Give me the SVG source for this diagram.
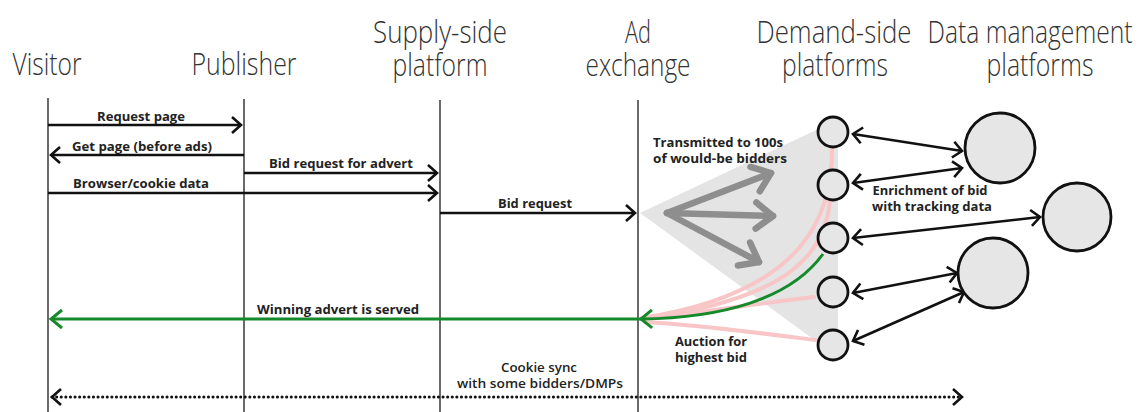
<svg xmlns="http://www.w3.org/2000/svg" width="1142" height="412" viewBox="0 0 1142 412">
<style>
.hd{font-family:"Open Sans","DejaVu Sans",sans-serif;font-weight:300;font-size:31px;fill:#333;text-anchor:middle}
.lb{font-family:"Open Sans","DejaVu Sans",sans-serif;font-weight:700;font-size:12.5px;fill:#222;text-anchor:middle}
.lbn{font-family:"Open Sans","DejaVu Sans",sans-serif;font-weight:600;font-size:12.5px;fill:#222;text-anchor:middle}
.life{stroke:#444;stroke-width:1.6;fill:none}
.blk{stroke:#111;stroke-width:2.6;fill:none}
.pink{stroke:#f8c6c6;stroke-width:4;fill:none;stroke-linecap:round}
.grn{stroke:#16892a;stroke-width:3;fill:none}
.gry{stroke:#8e8e8e;stroke-width:6.5;fill:none;stroke-linecap:round}
.dsp{fill:#e6e6e6;stroke:#111;stroke-width:2.8}
</style>
<defs>
<marker id="ab" viewBox="-12 -10 14 20" markerWidth="14" markerHeight="20" refX="0" refY="0" orient="auto-start-reverse" markerUnits="userSpaceOnUse" overflow="visible">
<path d="M-9,-8 L0,0 L-9,8" fill="none" stroke="#111" stroke-width="2.6"/>
</marker>
<marker id="ag" viewBox="-14 -12 16 24" markerWidth="16" markerHeight="24" refX="0" refY="0" orient="auto-start-reverse" markerUnits="userSpaceOnUse" overflow="visible">
<path d="M-11,-9 L0,0 L-11,9" fill="none" stroke="#16892a" stroke-width="3"/>
</marker>
<marker id="agr" viewBox="-22 -18 24 36" markerWidth="24" markerHeight="36" refX="0" refY="0" orient="auto" markerUnits="userSpaceOnUse" overflow="visible">
<path d="M-17,-13 L0,0 L-17,13" fill="none" stroke="#8e8e8e" stroke-width="6.5" stroke-linecap="round" stroke-linejoin="round"/>
</marker>
</defs>

<g id="headers">
<text class="hd" x="47" y="75" textLength="69" lengthAdjust="spacingAndGlyphs">Visitor</text>
<text class="hd" x="244" y="75" textLength="105" lengthAdjust="spacingAndGlyphs">Publisher</text>
<text class="hd" x="440" y="43" textLength="134" lengthAdjust="spacingAndGlyphs">Supply-side</text>
<text class="hd" x="440" y="76" textLength="95" lengthAdjust="spacingAndGlyphs">platform</text>
<text class="hd" x="638" y="43" textLength="26" lengthAdjust="spacingAndGlyphs">Ad</text>
<text class="hd" x="638" y="76" textLength="105" lengthAdjust="spacingAndGlyphs">exchange</text>
<text class="hd" x="834" y="43" textLength="155" lengthAdjust="spacingAndGlyphs">Demand-side</text>
<text class="hd" x="835" y="76" textLength="106" lengthAdjust="spacingAndGlyphs">platforms</text>
<text class="hd" x="1030" y="43" textLength="205" lengthAdjust="spacingAndGlyphs">Data management</text>
<text class="hd" x="1040" y="76" textLength="107" lengthAdjust="spacingAndGlyphs">platforms</text>
</g>

<g id="lifelines">
<line class="life" x1="48" y1="98" x2="48" y2="412"/>
<line class="life" x1="244" y1="99" x2="244" y2="412"/>
<line class="life" x1="440" y1="100" x2="440" y2="412"/>
<line class="life" x1="638" y1="100" x2="638" y2="412"/>
</g>

<g id="fan">
<polygon points="640,213 829,124 838,128 838,345 820,344" fill="#e4e4e4"/>
</g>

<g id="connectors">
<line class="blk" x1="48" y1="125" x2="241" y2="125" marker-end="url(#ab)"/>
<line class="blk" x1="244" y1="155" x2="51" y2="155" marker-end="url(#ab)"/>
<line class="blk" x1="244" y1="173" x2="437" y2="173" marker-end="url(#ab)"/>
<line class="blk" x1="48" y1="193" x2="437" y2="193" marker-end="url(#ab)"/>
<line class="blk" x1="440" y1="213" x2="635" y2="213" marker-end="url(#ab)"/>

<line class="gry" x1="667" y1="213" x2="771" y2="173" marker-end="url(#agr)"/>
<line class="gry" x1="667" y1="213" x2="773" y2="216" marker-end="url(#agr)"/>
<line class="gry" x1="667" y1="213" x2="759" y2="262" marker-end="url(#agr)"/>

<path class="pink" d="M832,150 C832,210 810,292 642,318"/>
<path class="pink" d="M830,200 C825,260 780,300 642,319"/>
<path class="pink" d="M814,297 C760,303 700,313 642,319"/>
<path class="pink" d="M815,340 C760,333 700,325 645,322"/>
<path class="grn" d="M823,254 C790,300 720,318 641,319" marker-end="url(#ag)"/>
<line class="grn" x1="641" y1="319" x2="51" y2="319" marker-end="url(#ag)"/>

<line class="blk" x1="853" y1="134" x2="962" y2="151" marker-start="url(#ab)" marker-end="url(#ab)"/>
<line class="blk" x1="853" y1="183" x2="962" y2="168" marker-start="url(#ab)" marker-end="url(#ab)"/>
<line class="blk" x1="853" y1="238" x2="1040" y2="217" marker-start="url(#ab)" marker-end="url(#ab)"/>
<line class="blk" x1="853" y1="293" x2="957" y2="273" marker-start="url(#ab)" marker-end="url(#ab)"/>
<line class="blk" x1="853" y1="341" x2="964" y2="292" marker-start="url(#ab)" marker-end="url(#ab)"/>

<line x1="52" y1="397" x2="962" y2="397" stroke="#111" stroke-width="3" stroke-dasharray="0.1 4.5" stroke-linecap="round" marker-start="url(#ab)" marker-end="url(#ab)"/>
</g>

<g id="labels">
<text class="lb" x="141" y="121" textLength="88" lengthAdjust="spacingAndGlyphs">Request page</text>
<text class="lb" x="142" y="151" textLength="140" lengthAdjust="spacingAndGlyphs">Get page (before ads)</text>
<text class="lb" x="341" y="168" textLength="144" lengthAdjust="spacingAndGlyphs">Bid request for advert</text>
<text class="lb" x="141" y="188" textLength="136" lengthAdjust="spacingAndGlyphs">Browser/cookie data</text>
<text class="lb" x="535" y="208" textLength="74" lengthAdjust="spacingAndGlyphs">Bid request</text>
<text class="lb" x="718" y="147" textLength="130" lengthAdjust="spacingAndGlyphs">Transmitted to 100s</text>
<text class="lb" x="720" y="163" textLength="134" lengthAdjust="spacingAndGlyphs">of would-be bidders</text>
<text class="lb" x="930" y="195" textLength="115" lengthAdjust="spacingAndGlyphs">Enrichment of bid</text>
<text class="lb" x="932" y="211" textLength="120" lengthAdjust="spacingAndGlyphs">with tracking data</text>
<text class="lb" x="338" y="314" textLength="162" lengthAdjust="spacingAndGlyphs">Winning advert is served</text>
<text class="lb" x="711" y="346" textLength="72" lengthAdjust="spacingAndGlyphs">Auction for</text>
<text class="lb" x="711" y="362" textLength="72" lengthAdjust="spacingAndGlyphs">highest bid</text>
<text class="lbn" x="539" y="372" textLength="76" lengthAdjust="spacingAndGlyphs">Cookie sync</text>
<text class="lbn" x="540" y="388" textLength="166" lengthAdjust="spacingAndGlyphs">with some bidders/DMPs</text>
</g>

<g id="dsp1"><circle class="dsp" cx="833" cy="132" r="15"/></g>
<g id="dsp2"><circle class="dsp" cx="833" cy="185" r="15"/></g>
<g id="dsp3"><circle class="dsp" cx="833" cy="238" r="15"/></g>
<g id="dsp4"><circle class="dsp" cx="833" cy="292" r="15"/></g>
<g id="dsp5"><circle class="dsp" cx="833" cy="345" r="15"/></g>
<g id="dmp1"><circle class="dsp" cx="1000" cy="148" r="35"/></g>
<g id="dmp2"><circle class="dsp" cx="1077" cy="217" r="34"/></g>
<g id="dmp3"><circle class="dsp" cx="993" cy="273" r="35"/></g>
</svg>
